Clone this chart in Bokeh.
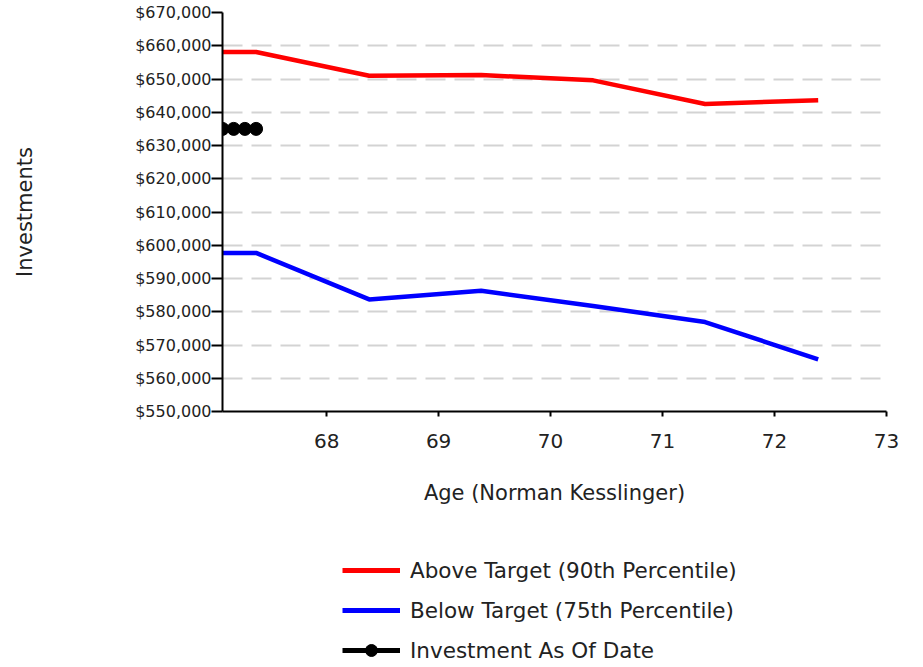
from bokeh.plotting import figure
from bokeh.layouts import column
from bokeh.models import (FixedTicker, NumeralTickFormatter, Legend, LegendItem, Range1d)
from bokeh.embed import file_html
from bokeh.resources import INLINE

# ---- data ----
ages = [67.07, 67.37, 68.38, 69.38, 70.38, 71.38, 72.39]
above_target = [658100, 658100, 651000, 651200, 649600, 642500, 643600]
below_target = [597700, 597700, 583700, 586300, 581700, 576900, 565700]
asof_ages = [67.07, 67.17, 67.27, 67.37]
asof_values = [635000, 635000, 635000, 635000]
x_ticks = [68, 69, 70, 71, 72, 73]
y_ticks = list(range(550000, 670001, 10000))
series_labels = ["Above Target (90th Percentile)", "Below Target (75th Percentile)",
                 "Investment As Of Date"]

FONT = "DejaVu Sans"
TXT = "#222222"
RED, BLUE, BLACK = "#ff0000", "#0000ff", "#000000"

p = figure(width=923, height=507, output_backend="svg", toolbar_location=None,
           x_range=Range1d(67.07, 73), y_range=Range1d(550000, 670000),
           min_border_left=222, min_border_right=37, min_border_top=12,
           min_border_bottom=0)
p.outline_line_color = None

p.line(ages, above_target, line_color=RED, line_width=4.5)
p.line(ages, below_target, line_color=BLUE, line_width=4.5)
p.line(asof_ages, asof_values, line_color=BLACK, line_width=4.5)
p.scatter(asof_ages, asof_values, size=13, fill_color=BLACK, line_color=BLACK)

# axes
xa = p.xaxis[0]
xa.ticker = FixedTicker(ticks=x_ticks)
xa.axis_label = "Age (Norman Kesslinger)"
xa.axis_line_width = 2
xa.major_tick_line_width = 2
xa.major_tick_in = 0
xa.major_tick_out = 5
xa.minor_tick_line_color = None
xa.major_label_text_font = FONT
xa.major_label_text_font_size = "20px"
xa.major_label_text_color = TXT
xa.major_label_standoff = 17
xa.axis_label_text_font = FONT
xa.axis_label_text_font_size = "21px"
xa.axis_label_text_font_style = "normal"
xa.axis_label_text_color = TXT
xa.axis_label_standoff = 30

ya = p.yaxis[0]
ya.ticker = FixedTicker(ticks=y_ticks)
ya.formatter = NumeralTickFormatter(format="$0,0")
ya.axis_label = "Investments"
ya.axis_line_width = 2
ya.major_tick_line_width = 2
ya.major_tick_in = 0
ya.major_tick_out = 11
ya.minor_tick_line_color = None
ya.major_label_text_font = FONT
ya.major_label_text_font_size = "16px"
ya.major_label_text_color = TXT
ya.major_label_standoff = 0
ya.axis_label_text_font = FONT
ya.axis_label_text_font_size = "21px"
ya.axis_label_text_font_style = "normal"
ya.axis_label_text_color = TXT
ya.axis_label_standoff = 95

p.xgrid.grid_line_color = None
p.ygrid.grid_line_color = "#d3d3d3"
p.ygrid.grid_line_width = 2
p.ygrid.grid_line_dash = "20 9"

# ---- legend panel (separate figure below the chart) ----
# the series are drawn again here only as legend sources; the ranges keep them off-screen
lg = figure(width=923, height=160, output_backend="svg", toolbar_location=None,
            x_range=Range1d(0, 1), y_range=Range1d(0, 1),
            x_axis_location=None, y_axis_location=None,
            min_border_left=0, min_border_right=0, min_border_top=0, min_border_bottom=0)
lg.outline_line_color = None
lg.xgrid.grid_line_color = None
lg.ygrid.grid_line_color = None
l_red = lg.line(ages, above_target, line_color=RED, line_width=5)
l_blue = lg.line(ages, below_target, line_color=BLUE, line_width=5)
l_black = lg.line(asof_ages, asof_values, line_color=BLACK, line_width=5)
s_black = lg.scatter(asof_ages, asof_values, size=12, fill_color=BLACK, line_color=BLACK)

legend = Legend(items=[
    LegendItem(label=series_labels[0], renderers=[l_red]),
    LegendItem(label=series_labels[1], renderers=[l_blue]),
    LegendItem(label=series_labels[2], renderers=[l_black, s_black]),
], location=(120, 2), orientation="vertical")
legend.border_line_color = None
legend.background_fill_alpha = 0
legend.margin = 0
legend.padding = 0
legend.glyph_width = 58
legend.glyph_height = 30
legend.label_height = 30
legend.spacing = 10
legend.label_standoff = 10
legend.label_text_font = FONT
legend.label_text_font_size = "21.5px"
legend.label_text_color = TXT
lg.add_layout(legend, "center")

layout = column(p, lg, spacing=0)
open("out.html", "w").write(file_html(layout, INLINE))
